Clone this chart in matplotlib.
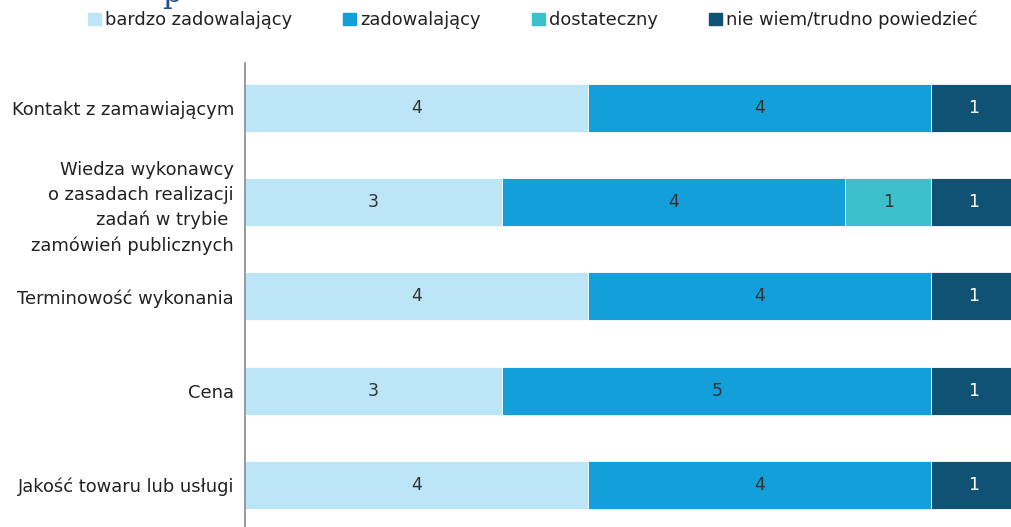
import matplotlib.pyplot as plt
from matplotlib.patches import Patch

categories = [
    'Kontakt z zamawiającym',
    'Wiedza wykonawcy\no zasadach realizacji\nzadań w trybie \nzamówień publicznych',
    'Terminowość wykonania',
    'Cena',
    'Jakość towaru lub usługi',
]
series_names = ['bardzo zadowalający', 'zadowalający', 'dostateczny', 'nie wiem/trudno powiedzieć']
bardzo = [4, 3, 4, 3, 4]
zadow = [4, 4, 4, 5, 4]
dostat = [0, 1, 0, 0, 0]
nie_wiem = [1, 1, 1, 1, 1]

colors = ['#BDE5F8', '#139FDA', '#3DBFCC', '#0F5273']
text_colors = ['#333333', '#333333', '#333333', 'white']

W, H = 1012, 527
fig = plt.figure(figsize=(W / 100, H / 100), dpi=100)
plt.rcParams['font.family'] = 'DejaVu Sans'

# axes spans from the y-axis line to past the right edge (bars are cropped)
ax = fig.add_axes([245 / W, 0, 772 / W, (527 - 63) / H])
y = list(range(len(categories)))
left = [0] * len(categories)
for vals, c, tc in zip([bardzo, zadow, dostat, nie_wiem], colors, text_colors):
    ax.barh(y, vals, left=left, height=0.51, color=c, edgecolor='white', linewidth=0.6)
    for i, v in enumerate(vals):
        if v:
            ax.text(left[i] + v / 2, i, str(v), ha='center', va='center',
                    fontsize=12.5, color=tc)
    left = [l + v for l, v in zip(left, vals)]

ax.set_xlim(0, 9)
ax.set_ylim(4.446, -0.477)
ax.set_yticks(y)
ax.set_yticklabels(categories, fontsize=12.9, color='#222222', linespacing=1.5)
ax.tick_params(axis='y', length=0, pad=8)
ax.set_xticks([])
for s in ['top', 'right', 'bottom']:
    ax.spines[s].set_visible(False)
ax.spines['left'].set_color('#888888')
ax.spines['left'].set_linewidth(1.2)

handles = [Patch(color=c) for c in colors]
fig.legend(handles, series_names, loc='center left', bbox_to_anchor=(72 / W, 1 - 20 / H),
           ncol=4, frameon=False, fontsize=12.9, handlelength=0.7, handleheight=0.7,
           handletextpad=0.25, columnspacing=2.85, labelcolor='#222222')

# remnant of the cropped title at the top
fig.text(162 / W, 1 - 2 / H, 'p', fontsize=22, family='DejaVu Serif', color='#1F4E8C',
         va='baseline', ha='left')

fig.savefig('out.png', dpi=100)
